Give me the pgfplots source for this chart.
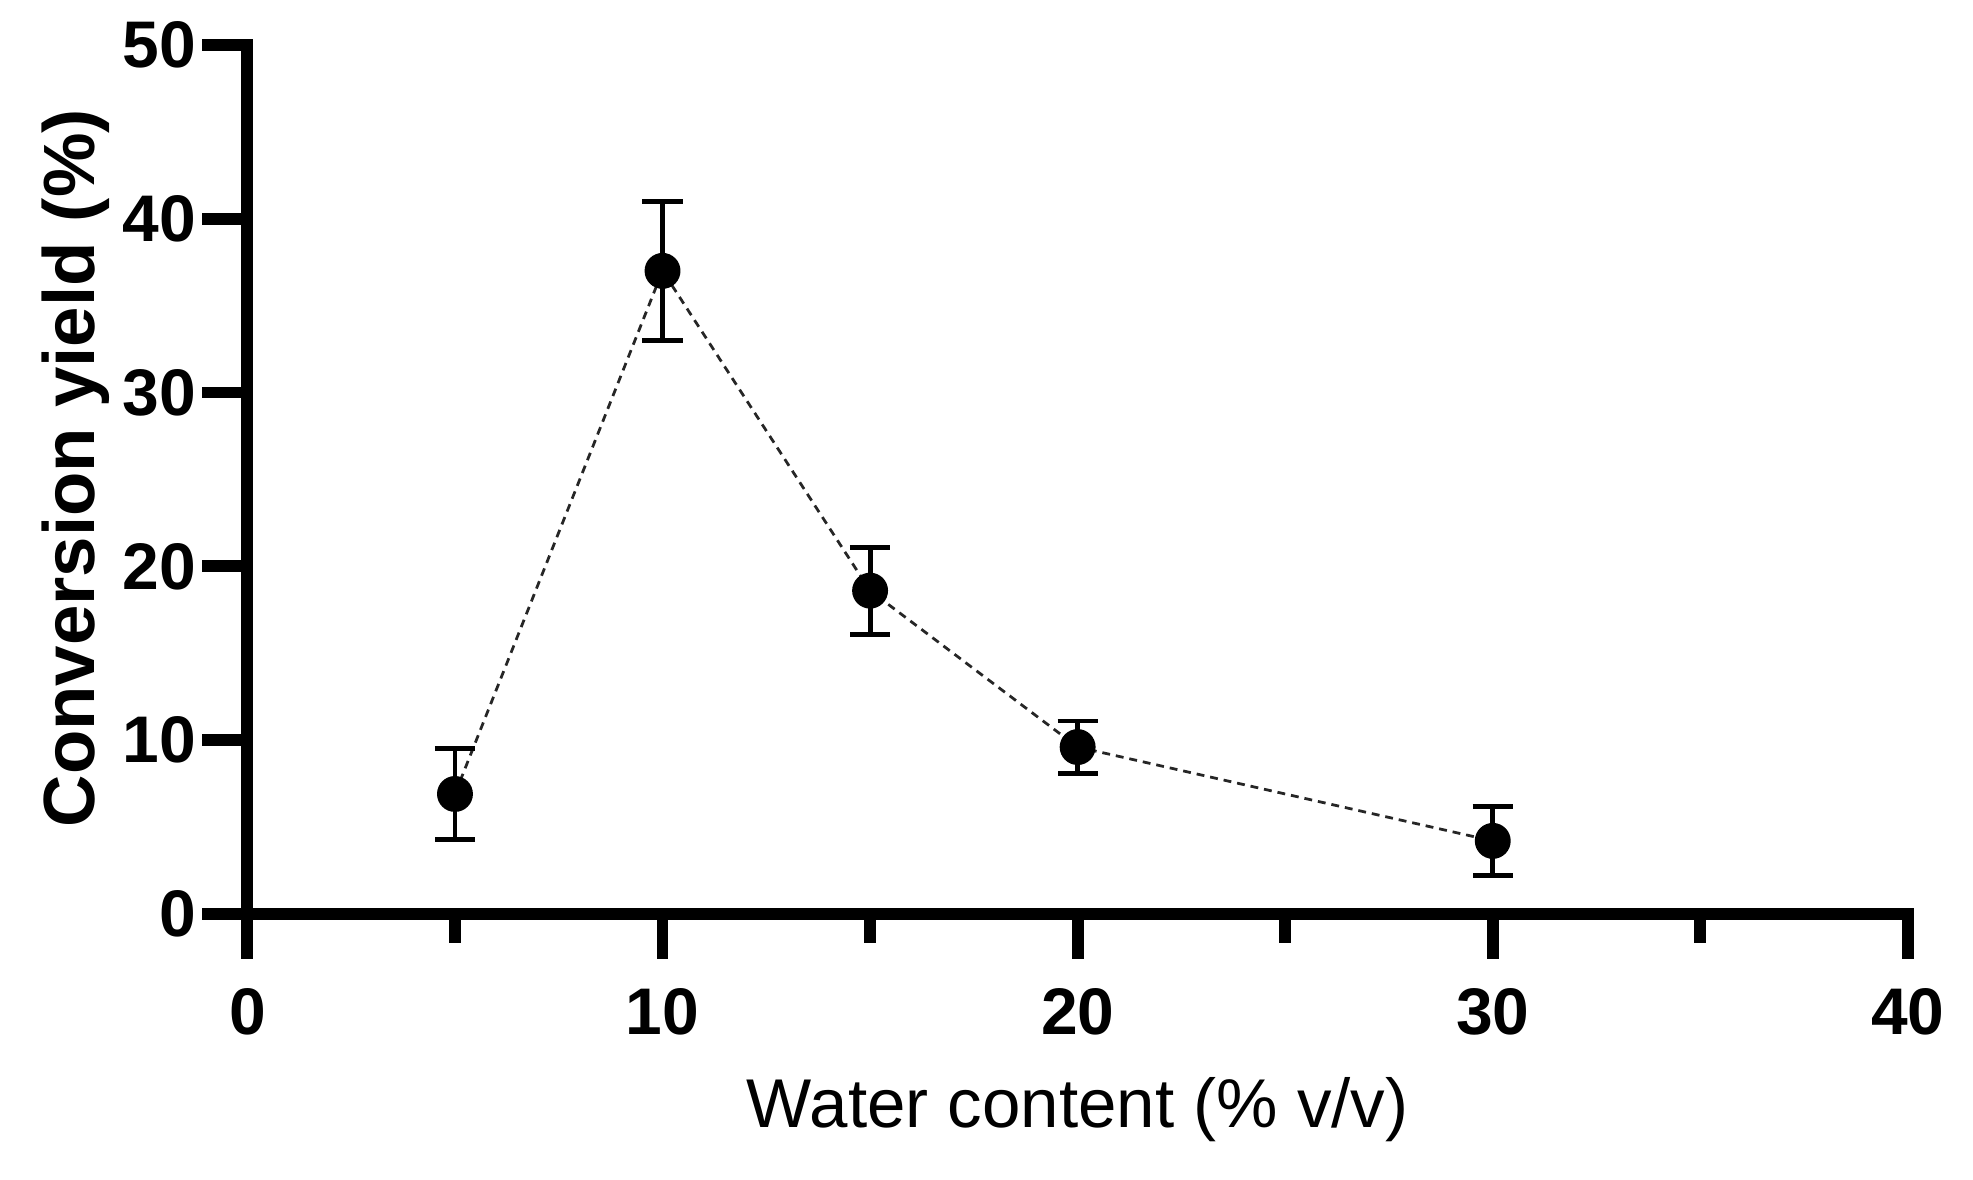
\documentclass[border=0pt]{standalone}
\usepackage{fontspec}
\setmainfont{Liberation Sans}
\usepackage{pgfplots}
\usepackage{pgfplotstable}
\pgfplotsset{compat=1.18}
\pgfplotstableread{
x y e
5 6.9 2.6
10 37.0 4.0
15 18.6 2.5
20 9.6 1.5
30 4.2 2.0
}\datatable
\begin{document}
\begin{tikzpicture}
\begin{axis}[
 name=ax,
 scale only axis,
 width=420.8pt, height=220.2pt,
 xmin=0, xmax=40, ymin=0, ymax=50,
 axis lines=left,
 axis line style={line width=3pt, -, line cap=rect},
 xtick={0,10,20,30,40},
 minor xtick={5,15,25,35},
 ytick={0,10,20,30,40,50},
 tick align=outside,
 major tick length=11.4pt,
 minor tick length=7.3pt,
 tick style={line width=3pt, black},
 /pgf/number format/assume math mode=true,
 ticklabel style={font=\fontsize{16.7}{18}\selectfont\bfseries},
 xticklabel style={inner sep=0pt, yshift=-7.3pt},
 yticklabel style={inner sep=0pt, xshift=-1.5pt},
 clip=false,
 xlabel={Water content (\% v/v)},
 ylabel={Conversion yield (\%)},
 xlabel style={font=\fontsize{17.5}{20}\selectfont, at={(axis description cs:0.5,-0.2257)}, anchor=center},
 ylabel style={font=\fontsize{18.4}{20}\selectfont\bfseries, at={(axis description cs:-0.1033,0.513)}, anchor=center},
]
\addplot[black!85, line width=0.7pt, dash pattern=on 2pt off 1.5pt,
  mark=*, mark size=4.2pt, mark options={solid, fill=black, draw=black},
  error bars/.cd, y dir=both, y explicit,
  error bar style={line width=1.25pt, solid, black},
  error mark options={rotate=90, mark size=5.1pt, line width=1.25pt, solid, black}]
  table[x=x, y=y, y error=e] {\datatable};
\end{axis}
\pgfresetboundingbox
\path[use as bounding box] ([shift={(-62.7pt,-67.2pt)}]ax.south west) rectangle ([shift={(16.5pt,11.4pt)}]ax.north east);
\end{tikzpicture}
\end{document}
